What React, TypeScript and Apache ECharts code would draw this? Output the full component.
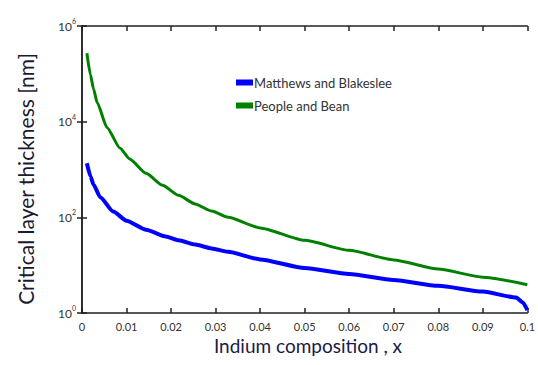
import React, { useEffect, useRef } from "react";
import * as echarts from "echarts";

// Indium composition (x) and critical layer thickness (nm)
const mbX = [0.0011, 0.0019, 0.0026, 0.0041, 0.007, 0.01, 0.0144, 0.0188, 0.0217, 0.0254, 0.0291, 0.0328, 0.04, 0.05, 0.06, 0.07, 0.08, 0.09, 0.0975, 0.099, 0.1];
const mbY = [1350, 724, 479, 263, 132, 85, 55, 39.8, 33.1, 26.9, 22.4, 19.1, 13.2, 8.7, 6.5, 4.9, 3.7, 2.8, 2.1, 1.66, 1.15];

const pbX = [0.0011, 0.0019, 0.0026, 0.0034, 0.0056, 0.0085, 0.0107, 0.0144, 0.0181, 0.0217, 0.0254, 0.0291, 0.0328, 0.04, 0.05, 0.06, 0.07, 0.08, 0.09, 0.1];
const pbY = [269000, 95500, 47900, 25100, 7590, 2820, 1660, 832, 468, 288, 191, 135, 100, 60, 33, 20.4, 12.9, 8.3, 5.6, 3.9];

const seriesNames = ["Matthews and Blakeslee", "People and Bean"];
const xTitle = "Indium composition , x";
const yTitle = "Critical layer thickness [nm]";

const FONT = "Lato, 'Liberation Sans', sans-serif";

export default function App() {
  const ref = useRef<HTMLDivElement>(null);

  useEffect(() => {
    if (!ref.current) return;
    document.body.style.margin = "0";
    const chart = echarts.init(ref.current, null, { renderer: "svg" });

    const zip = (xs: number[], ys: number[]) => xs.map((x, i) => [x, ys[i]]);

    const axisLine = { show: true, lineStyle: { color: "#222", width: 1.5 } };
    const axisTick = { show: true, inside: true, length: 5, lineStyle: { color: "#222", width: 1.5 } };

    const xBase = {
      type: "value" as const,
      min: 0,
      max: 0.1,
      interval: 0.01,
      axisLine,
      axisTick,
      splitLine: { show: false },
    };
    const yBase = {
      type: "log" as const,
      logBase: 100,
      min: 1,
      max: 1e6,
      axisLine,
      axisTick,
      splitLine: { show: false },
    };

    chart.setOption({
      animation: false,
      backgroundColor: "#fff",
      grid: { left: 82, right: 5, top: 26, bottom: 52 },
      legend: {
        orient: "vertical",
        left: 231,
        top: 71,
        itemWidth: 17,
        itemHeight: 6,
        itemGap: 10,
        icon: "rect",
        textStyle: { fontFamily: FONT, fontSize: 13, color: "#333", padding: [0, 0, 0, -4] },
        data: seriesNames,
      },
      xAxis: [
        {
          ...xBase,
          position: "bottom",
          axisLabel: {
            fontFamily: FONT,
            fontSize: 11,
            color: "#333",
            margin: 8,
            formatter: (v: number) => (v === 0 ? "0" : String(Number(v.toFixed(2)))),
          },
        },
        { ...xBase, position: "top", axisLabel: { show: false } },
      ],
      yAxis: [
        {
          ...yBase,
          position: "left",
          axisLabel: {
            fontFamily: FONT,
            color: "#333",
            margin: 6,
            formatter: (v: number) => `{b|10}{s|${Math.round(Math.log10(v))}}`,
            rich: {
              b: { fontFamily: FONT, fontSize: 12, color: "#333" },
              s: { fontFamily: FONT, fontSize: 7, color: "#333", padding: [0, 0, 10, 0] },
            },
          },
        },
        { ...yBase, position: "right", axisLabel: { show: false } },
      ],
      series: [
        {
          name: seriesNames[0],
          type: "line",
          data: zip(mbX, mbY),
          showSymbol: false,
          smooth: 0.2,
          smoothMonotone: "x",
          itemStyle: { color: "#0000ff" },
          lineStyle: { color: "#0000ff", width: 4 },
        },
        {
          name: seriesNames[1],
          type: "line",
          data: zip(pbX, pbY),
          showSymbol: false,
          smooth: 0.2,
          smoothMonotone: "x",
          itemStyle: { color: "#008000" },
          lineStyle: { color: "#008000", width: 3 },
        },
      ],
      graphic: [
        {
          type: "text",
          x: 308,
          y: 345,
          style: {
            text: xTitle,
            fontFamily: FONT,
            fontSize: 19,
            fill: "#1a1a48",
            textAlign: "center",
            textVerticalAlign: "middle",
          },
        },
        {
          type: "text",
          x: 25,
          y: 179,
          rotation: Math.PI / 2,
          style: {
            text: yTitle,
            fontFamily: FONT,
            fontSize: 21,
            fill: "#1a1a30",
            textAlign: "center",
            textVerticalAlign: "middle",
          },
        },
      ],
    });

    return () => chart.dispose();
  }, []);

  return <div ref={ref} style={{ width: 538, height: 365 }} />;
}
